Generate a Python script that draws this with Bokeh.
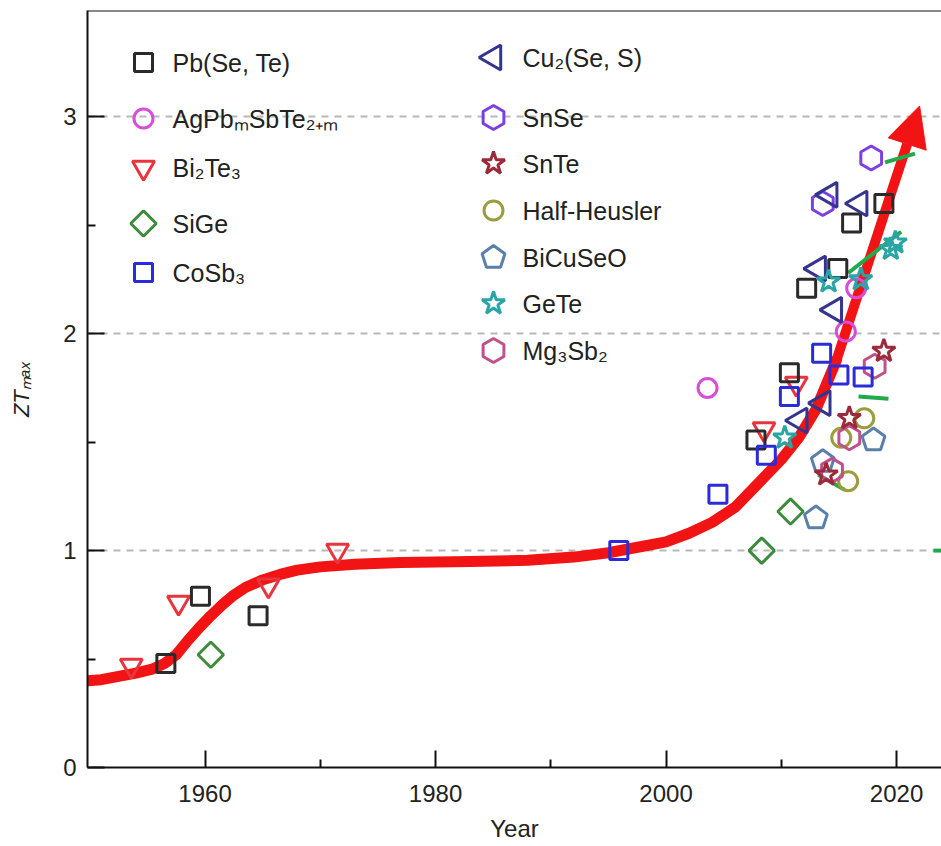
import numpy as np
from bokeh.plotting import figure
from bokeh.models import FixedTicker, Label, Arrow, NormalHead, Span
from bokeh.embed import file_html
from bokeh.resources import INLINE

# ---------------- data ----------------
pb_x = [1956.6, 1959.6, 1964.6, 2007.8, 2010.7, 2012.2, 2014.9, 2016.1, 2018.9]
pb_y = [0.48, 0.79, 0.70, 1.51, 1.82, 2.21, 2.30, 2.51, 2.60]

agpb_x = [2003.6, 2015.6, 2016.5]
agpb_y = [1.75, 2.01, 2.21]

bite_x = [1953.6, 1957.7, 1965.5, 1971.5, 2008.5, 2011.3]
bite_y = [0.47, 0.76, 0.84, 1.00, 1.56, 1.77]

sige_x = [1960.5, 2008.3, 2010.8]
sige_y = [0.52, 1.00, 1.18]

cosb_x = [1995.9, 2004.5, 2008.7, 2010.7, 2013.5, 2015.0, 2017.1]
cosb_y = [1.00, 1.26, 1.44, 1.71, 1.91, 1.81, 1.80]

cuse_x = [2011.6, 2013.6, 2014.6, 2013.2, 2014.2, 2016.8]
cuse_y = [1.60, 1.68, 2.11, 2.30, 2.64, 2.60]

snse_x = [2013.6, 2017.8]
snse_y = [2.60, 2.81]

snte_x = [2018.9, 2015.9, 2013.9]
snte_y = [1.92, 1.61, 1.35]

hh_x = [2017.2, 2015.2, 2015.8]
hh_y = [1.61, 1.52, 1.32]

bicuseo_x = [2013.0, 2013.6, 2018.0]
bicuseo_y = [1.15, 1.41, 1.51]

gete_x = [2010.3, 2014.1, 2016.9, 2019.5, 2019.9]
gete_y = [1.52, 2.24, 2.25, 2.39, 2.42]

mgsb_x = [2018.1, 2015.9, 2014.4]
mgsb_y = [1.85, 1.52, 1.37]

# green trend segments
seg_x0 = [2019.0, 2015.8, 2016.7, 2013.2, 2023.2]
seg_y0 = [2.79, 2.28, 1.71, 1.35, 1.00]
seg_x1 = [2021.6, 2020.4, 2019.3, 2015.5, 2025.0]
seg_y1 = [2.83, 2.47, 1.70, 1.28, 1.00]

# red guide curve
curve_x = [1949.8, 1951, 1952.5, 1954, 1955.5, 1956.5, 1957.5, 1958.5, 1959.5,
           1960.5, 1961.5, 1962.5, 1963.5, 1965, 1966.5, 1968, 1970, 1973, 1977,
           1983, 1988, 1992, 1995, 1998, 2000, 2002, 2004, 2006, 2008, 2010,
           2011.5, 2013, 2014.8]
curve_y = [0.40, 0.405, 0.42, 0.435, 0.455, 0.48, 0.52, 0.585, 0.645,
           0.70, 0.75, 0.795, 0.83, 0.865, 0.89, 0.91, 0.925, 0.937, 0.945,
           0.95, 0.955, 0.97, 0.99, 1.02, 1.04, 1.08, 1.13, 1.20, 1.31, 1.42,
           1.52, 1.65, 1.88]
arrow_start = (2014.8, 1.88)
arrow_end = (2022.0, 3.05)

x_ticks = [1960, 1980, 2000, 2020]
x_minor = [1970, 1990, 2010]
y_ticks = [0, 1, 2, 3]
y_minor = [0.5, 1.5, 2.5]

legend_left = ["Pb(Se, Te)", "AgPbₘSbTe₂₊ₘ", "Bi₂Te₃", "SiGe", "CoSb₃"]
legend_right = ["Cu₂(Se, S)", "SnSe", "SnTe", "Half-Heusler", "BiCuSeO", "GeTe", "Mg₃Sb₂"]

# ---------------- layout ----------------
X0, X1 = 1949.8, 2023.9
Y0, Y1 = 0.0, 3.49
LEFT, TOP, FW, FH = 87, 10, 854, 757
FONT = "Liberation Sans"


def px2x(px):
    return X0 + (px - LEFT) / FW * (X1 - X0)


def py2y(py):
    return Y1 - (py - TOP) / FH * (Y1 - Y0)


p = figure(frame_width=FW, frame_height=FH, x_range=(X0, X1), y_range=(Y0, Y1),
           min_border_left=LEFT, min_border_right=0, min_border_top=TOP,
           min_border_bottom=79, output_backend="svg", toolbar_location=None)
p.outline_line_color = None
p.background_fill_color = "white"
p.border_fill_color = "white"

p.xgrid.visible = False
p.ygrid.ticker = FixedTicker(ticks=[1, 2, 3])
p.ygrid.grid_line_color = "#b8b8b8"
p.ygrid.grid_line_dash = "7 6"
p.ygrid.grid_line_width = 2

for ax in (p.xaxis[0], p.yaxis[0]):
    ax.axis_line_width = 2
    ax.axis_line_color = "#111111"
    ax.major_tick_line_color = "#111111"
    ax.minor_tick_line_color = "#111111"
    ax.major_tick_line_width = 2
    ax.minor_tick_line_width = 2
    ax.major_tick_in = 17
    ax.major_tick_out = 0
    ax.minor_tick_in = 8
    ax.minor_tick_out = 0
    ax.major_label_text_font = FONT
    ax.major_label_text_font_size = "24px"
    ax.major_label_text_color = "#222222"

p.xaxis.major_label_standoff = 17
p.yaxis.major_label_standoff = 11
p.xaxis.ticker = FixedTicker(ticks=x_ticks, minor_ticks=x_minor)
p.yaxis.ticker = FixedTicker(ticks=y_ticks, minor_ticks=y_minor)
p.xaxis.axis_label = "Year"
p.xaxis.axis_label_text_font = FONT
p.xaxis.axis_label_text_font_size = "24px"
p.xaxis.axis_label_text_font_style = "normal"
p.xaxis.axis_label_text_color = "#222222"
p.xaxis.axis_label_standoff = 10

p.yaxis.axis_label = "ZTₘₐₓ"
p.yaxis.axis_label_text_font = FONT
p.yaxis.axis_label_text_font_size = "22px"
p.yaxis.axis_label_text_font_style = "italic"
p.yaxis.axis_label_text_color = "#222222"
p.yaxis.axis_label_standoff = 26

# top frame line
p.add_layout(Span(location=Y1, dimension="width", line_color="#111111", line_width=2))

# red curve + arrow
RED = "#f21414"
p.line(curve_x, curve_y, line_width=11, line_color=RED, line_cap="round", line_join="round")
p.add_layout(Arrow(x_start=arrow_start[0], y_start=arrow_start[1],
                   x_end=arrow_end[0], y_end=arrow_end[1],
                   line_width=10, line_color=RED,
                   end=NormalHead(size=40, fill_color=RED, line_color=RED),
                   level="underlay"))

# green segments
p.segment(seg_x0, seg_y0, seg_x1, seg_y1, line_color="#22aa4a", line_width=4)

LW = 3
styles = {
    "pb": dict(marker="square", size=18, color="#2a2a2a", angle=0),
    "agpb": dict(marker="circle", size=19, color="#d94cd9", angle=0),
    "bite": dict(marker="inverted_triangle", size=22, color="#e8343c", angle=0),
    "sige": dict(marker="square", size=18, color="#3d8c3d", angle=np.pi / 4),
    "cosb": dict(marker="square", size=18, color="#2b2bd9", angle=0),
    "cuse": dict(marker="triangle", size=25, color="#35358f", angle=np.pi / 2),
    "snse": dict(marker="hex", size=24, color="#7b3fe4", angle=np.pi / 6),
    "snte": dict(marker="star", size=24, color="#9c2a3a", angle=0),
    "hh": dict(marker="circle", size=19, color="#9c9c3c", angle=0),
    "bicuseo": dict(marker="pentagon", size=24, color="#5a7fa8", angle=0),
    "gete": dict(marker="star", size=24, color="#2aa5a5", angle=0),
    "mgsb": dict(marker="hex", size=24, color="#c0508c", angle=np.pi / 6),
}


def draw(xs, ys, st):
    if st["marker"] == "pentagon":
        try:
            p.ngon(x=xs, y=ys, radius=st["size"] / 2, radius_units="screen", n=5,
                   angle=0, fill_color=None, line_color=st["color"], line_width=LW)
            return
        except Exception:
            p.scatter(xs, ys, marker="hex", size=st["size"], fill_color=None,
                      line_color=st["color"], line_width=LW)
            return
    p.scatter(xs, ys, marker=st["marker"], size=st["size"], angle=st["angle"],
              fill_color=None, line_color=st["color"], line_width=LW)


series = [
    (sige_x, sige_y, "sige"), (bicuseo_x, bicuseo_y, "bicuseo"), (hh_x, hh_y, "hh"),
    (mgsb_x, mgsb_y, "mgsb"), (snte_x, snte_y, "snte"), (agpb_x, agpb_y, "agpb"),
    (snse_x, snse_y, "snse"), (bite_x, bite_y, "bite"), (pb_x, pb_y, "pb"),
    (cosb_x, cosb_y, "cosb"), (cuse_x, cuse_y, "cuse"), (gete_x, gete_y, "gete"),
]
for xs, ys, key in series:
    draw(xs, ys, styles[key])

# legend (manual)
left_keys = ["pb", "agpb", "bite", "sige", "cosb"]
left_py = [62, 118, 167, 223, 272]
right_keys = ["cuse", "snse", "snte", "hh", "bicuseo", "gete", "mgsb"]
right_py = [57, 117, 163, 210, 257, 303, 350]

for keys, pys, names, mx in ((left_keys, left_py, legend_left, 143),
                             (right_keys, right_py, legend_right, 493)):
    for k, py, name in zip(keys, pys, names):
        draw([px2x(mx)], [py2y(py)], styles[k])
        p.add_layout(Label(x=px2x(mx + 29), y=py2y(py), text=name,
                           text_font=FONT, text_font_size="25px",
                           text_color="#222222", text_align="left",
                           text_baseline="middle"))

open("out.html", "w").write(file_html(p, INLINE))
